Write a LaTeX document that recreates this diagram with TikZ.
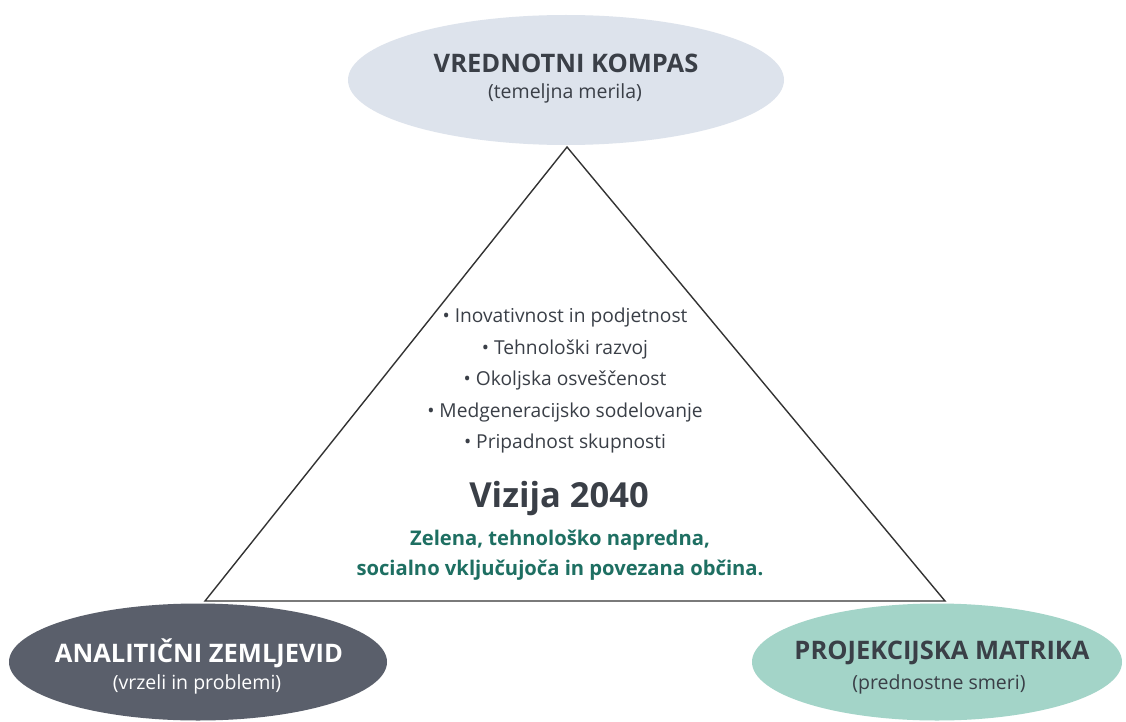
\documentclass[tikz,border=0pt]{standalone}
\usepackage{fontspec}
\setmainfont{Open Sans}
\usetikzlibrary{shapes.geometric}

\definecolor{kompasfill}{HTML}{DDE3EC}
\definecolor{zemljfill}{HTML}{5A5F6B}
\definecolor{matrikfill}{HTML}{A3D4C8}
\definecolor{inktext}{HTML}{3A3F47}
\definecolor{vizgreen}{HTML}{1E6F62}

\tikzset{
  pole/.style={shape=ellipse,inner sep=0pt},
  poletitle/.style={inner sep=0pt,font=\bfseries\fontsize{25.5}{30}\selectfont},
  polesub/.style={inner sep=0pt,font=\fontsize{19.5}{24}\selectfont},
  edgeline/.style={draw=black!80,line width=1.4pt,line join=miter},
  listtext/.style={align=center,text=inktext,font=\fontsize{19.2}{31.5}\selectfont},
}

\begin{document}
\begin{tikzpicture}[x=1pt,y=-1pt]
\useasboundingbox[fill=white] (0,0) rectangle (1126,722);

\coordinate (apex) at (567,147);
\coordinate (left) at (205,601);
\coordinate (right) at (945,601);
\path[edgeline] (apex) -- (left) -- (right) -- cycle;

% three poles
\node[pole,fill=kompasfill,minimum width=436pt,minimum height=130pt] (kompas) at (566,80) {};
\node[pole,fill=zemljfill,minimum width=378pt,minimum height=117pt] (zemljevid) at (198,662) {};
\node[pole,fill=matrikfill,minimum width=370pt,minimum height=117pt] (matrika) at (937,662) {};

\node[poletitle,text=inktext] (kompas-t) at (566,63) {VREDNOTNI KOMPAS};
\node[polesub,text=inktext] (kompas-s) at (565,93) {(temeljna merila)};
\node[poletitle,text=white] (zemljevid-t) at (199,653) {ANALITIČNI ZEMLJEVID};
\node[polesub,text=white] (zemljevid-s) at (197,684) {(vrzeli in problemi)};
\node[poletitle,text=inktext] (matrika-t) at (942,653) {PROJEKCIJSKA MATRIKA};
\node[polesub,text=inktext] (matrika-s) at (939,684) {(prednostne smeri)};

\node[listtext] (vrednote) at (565,381) {• Inovativnost in podjetnost\\
• Tehnološki razvoj\\
• Okoljska osveščenost\\
• Medgeneracijsko sodelovanje\\
• Pripadnost skupnosti};

\node[text=inktext,font=\bfseries\fontsize{34.5}{40}\selectfont] (vizija) at (559,499) {Vizija 2040};
\node[align=center,text=vizgreen,font=\bfseries\fontsize{20.2}{30}\selectfont] (opis) at (560,555) {Zelena, tehnološko napredna,\\
socialno vključujoča in povezana občina.};

\end{tikzpicture}
\end{document}
